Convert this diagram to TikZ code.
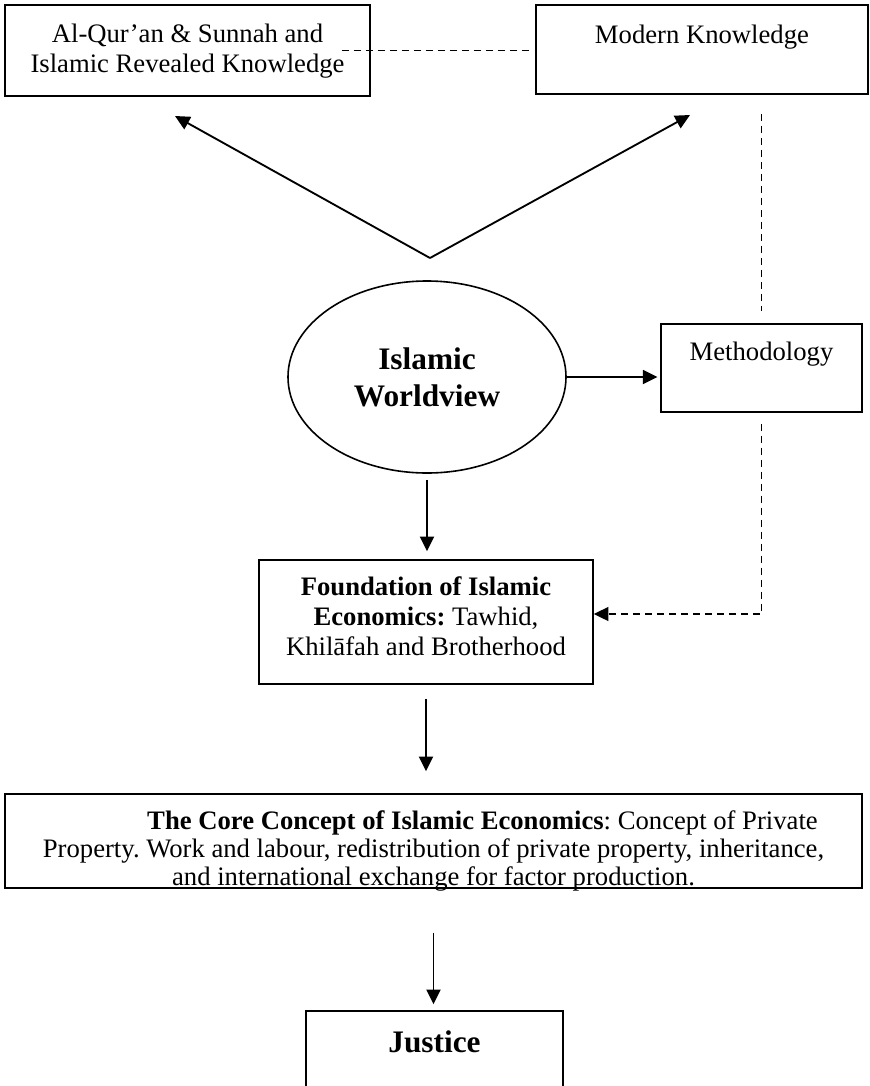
\documentclass[tikz,border=0pt]{standalone}
\usepackage{fontspec}
\setmainfont{Liberation Serif}
\usetikzlibrary{arrows.meta, shapes.geometric}

\begin{document}
\frenchspacing
\begin{tikzpicture}[x=0.75pt, y=-0.75pt, >={Triangle[length=11pt,width=10.5pt]},
  box/.style={draw, line width=1.2pt, inner sep=0pt, align=flush center, anchor=base, font=\fontsize{20}{22.5}\selectfont},
  big/.style={font=\fontsize{23.5}{27.75}\selectfont\bfseries},
  link/.style={->, line width=1.4pt},
  dashlink/.style={line width=1.1pt, dash pattern=on 5.25pt off 3.75pt}]

\useasboundingbox (0,0) rectangle (870,1086);

% sources of knowledge
\node[box, text width=273.75pt, text height=27.75pt, text depth=40.5pt] (quran) at (187.5,42) {Al-Qur'an \& Sunnah and\\Islamic Revealed Knowledge};
\node[box, text width=249pt, text height=28.5pt, text depth=38.25pt] (modern) at (702,43) {Modern Knowledge};

% worldview and methodology
\node[draw, ellipse, line width=1.2pt, big, align=center, minimum width=208.5pt, minimum height=144pt, inner sep=0pt] (wv) at (427,377) {Islamic\\Worldview};
\node[box, text width=150.75pt, text height=27pt, text depth=39pt] (meth) at (761.5,360) {Methodology};

% foundation, core concept and justice
\node[box, text width=250.5pt, text height=26.25pt, text depth=66.75pt] (found) at (426,595) {\textbf{Foundation of Islamic}\\\textbf{Economics:} Tawhid,\\Khilāfah and Brotherhood};
\node[box, font=\fontsize{20}{21}\selectfont, text width=642.75pt, text height=26.25pt, text depth=44.25pt] (core) at (433.5,829) {\hspace*{73.5pt}\textbf{The Core Concept of Islamic Economics}: Concept of Private\\Property. Work and labour, redistribution of private property, inheritance,\\and international exchange for factor production.};
\node[box, big, text width=192.75pt, text height=30.75pt, text depth=28.5pt] (just) at (434.5,1052) {Justice};

% links from the worldview up to the sources
\coordinate (apex) at (430,258);
\coordinate (tipq) at (175,116);
\coordinate (tipm) at (690,115);
\draw[link] (apex) -- (tipq);
\draw[link] (apex) -- (tipm);

% dashed links
\draw[dashlink, shorten <=-21.75pt, shorten >=3.75pt] (quran.east) -- (quran.east -| modern.west);
\draw[dashlink, shorten <=14.25pt, shorten >=9pt] (modern.south -| meth.north) -- (meth.north);
\draw[dashlink, ->, shorten <=8.25pt] (meth.south) |- ([yshift=6pt]found.east);

% main flow
\draw[link, shorten >=2pt] (wv.east) -- (wv.east -| meth.west);
\draw[link, shorten <=4.5pt, shorten >=6pt] (wv.south) -- (wv.south |- found.north);
\draw[link, shorten <=10.5pt, shorten >=16.5pt] (found.south) -- (found.south |- core.north);
\draw[link, shorten <=33pt, shorten >=4.5pt] (core.south) -- (core.south |- just.north);

\end{tikzpicture}
\end{document}
